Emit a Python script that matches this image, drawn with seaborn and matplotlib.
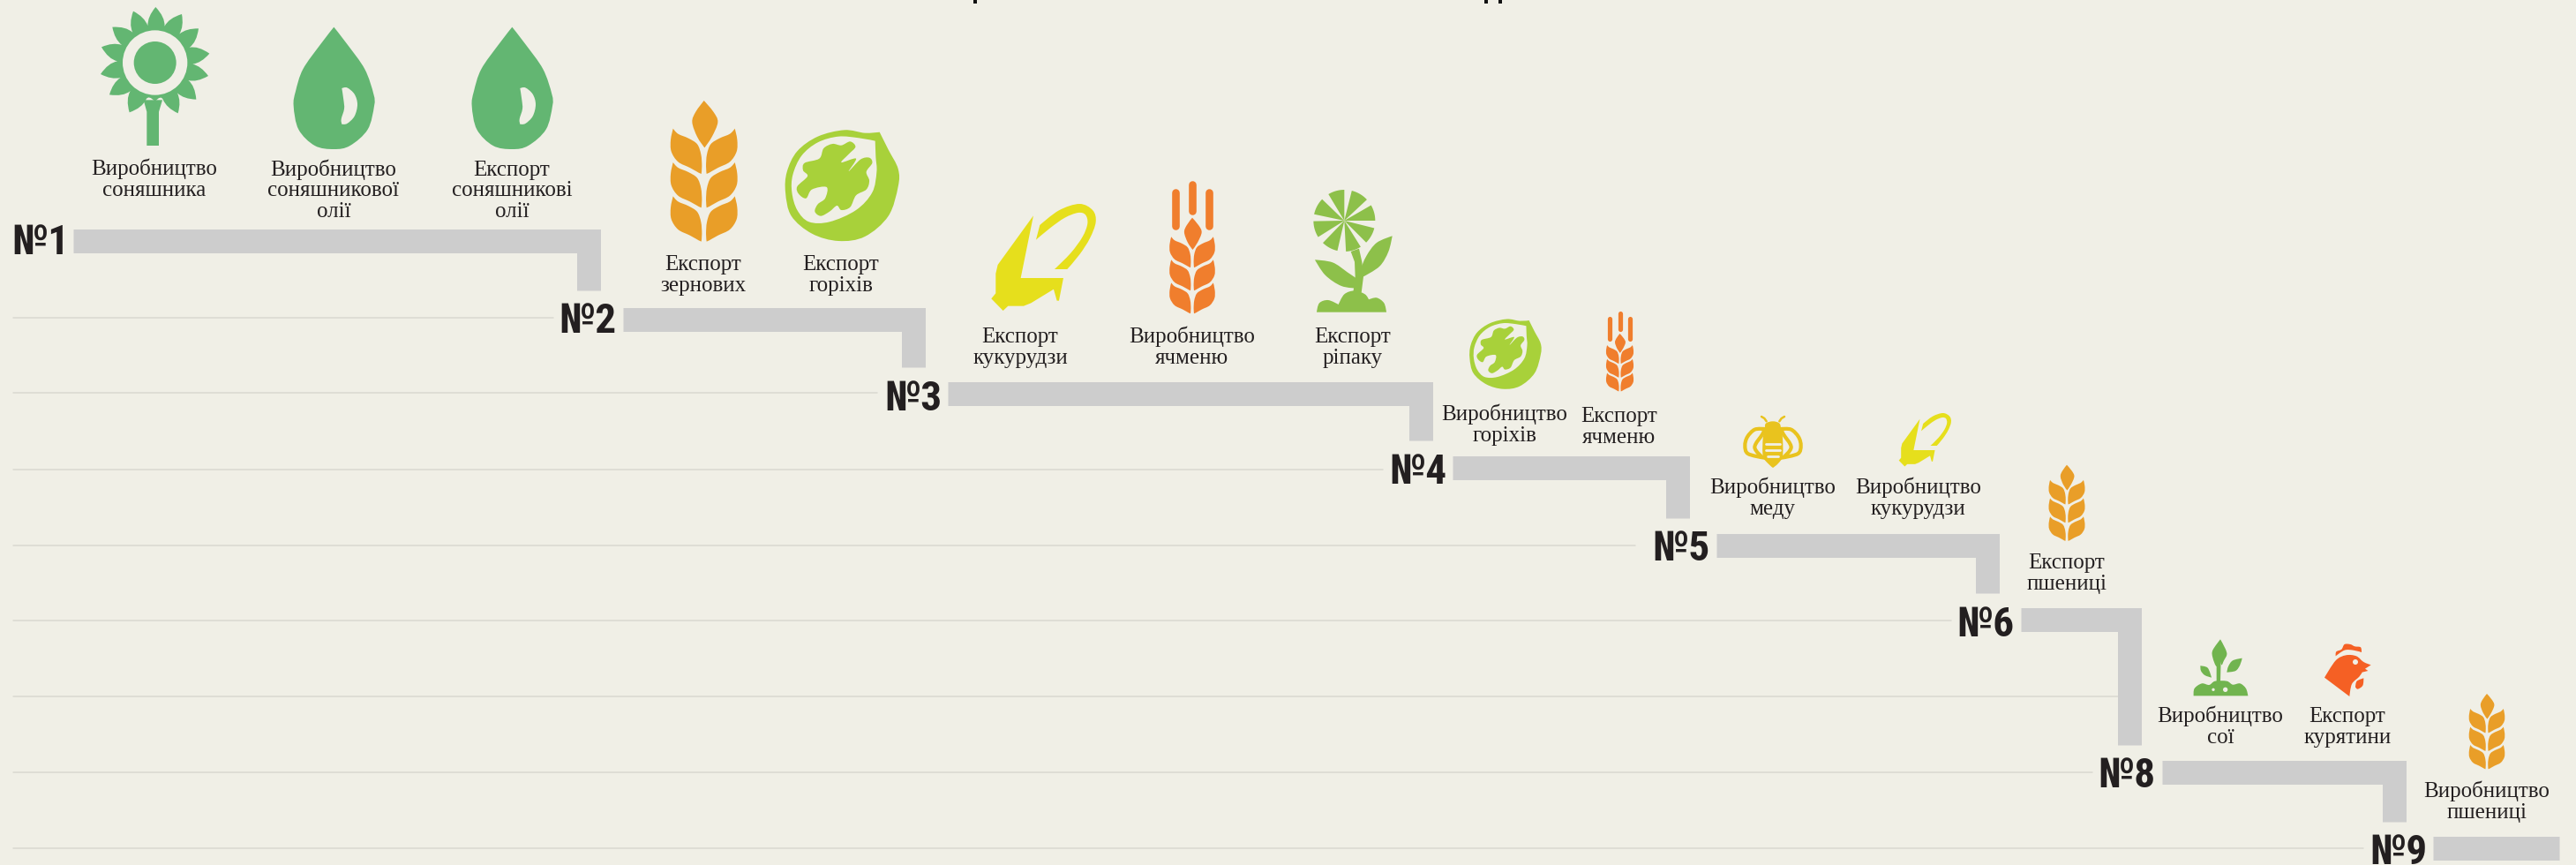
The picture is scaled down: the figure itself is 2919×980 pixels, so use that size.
import math
import numpy as np
import pandas as pd
import seaborn as sns
import matplotlib
matplotlib.use("Agg")
import matplotlib.pyplot as plt
from matplotlib.path import Path
from matplotlib.patches import PathPatch, Circle, Rectangle
from matplotlib import font_manager as fm

# ---------- data ----------
rank_labels = ["№1", "№2", "№3", "№4", "№5", "№6", "№8", "№9"]
rank_text_x = [13, 633, 1002, 1574, 1872, 2217, 2377, 2685]
rank_baseline = [288, 377, 465, 548, 635, 721, 892, 979]
bar_start = [83, 706, 1074, 1646, 1945, 2290, 2450, 2757]
bar_end = [680, 1048, 1623, 1914.5, 2265, 2426.5, 2726, 2899.5]
bar_y = [273.5, 362.5, 446, 530, 617.5, 701.5, 874.5, 961]
drop_end = [329, 416, 499, 587, 672, 844, 931, None]

grid_y = [360, 445, 532, 618, 703, 789, 875, 961]
grid_end = [627, 994, 1567, 1853, 2210.5, 2400, 2370.5, 2678]
grid_start = 15

item_labels = ["Виробництво\nсоняшника", "Виробництво\nсоняшникової\nолії", "Експорт\nсоняшникові\nолії",
               "Експорт\nзернових", "Експорт\nгоріхів", "Експорт\nкукурудзи", "Виробництво\nячменю",
               "Експорт\nріпаку", "Виробництво\nгоріхів", "Експорт\nячменю", "Виробництво\nмеду",
               "Виробництво\nкукурудзи", "Експорт\nпшениці", "Виробництво\nсої", "Експорт\nкурятини",
               "Виробництво\nпшениці"]
item_x = [175, 378, 580, 797, 953, 1156, 1351, 1532.5, 1705, 1835, 2008.5, 2173.5, 2342, 2516, 2660, 2818]
item_last_baseline = [222, 246, 246, 330, 330, 411.5, 411.5, 411.5, 500, 502, 583, 583, 668, 842, 842, 927]

BG = "#F0EFE6"
BAR = "#CDCDCD"
GRID = "#D9D8D0"
INK = "#231F20"
GREEN = "#63B672"
WHEAT = "#E99E28"
NUT = "#A8D13A"
CORN = "#E6DF1C"
BARLEY = "#F07E2D"
RAPE = "#8DC04A"
BEE = "#E9C31E"
SOY = "#71B44F"
HEN = "#F56024"

# icon outlines, in 3x crop coordinates
kernel_top = [(173, 27), (205, 65), (220, 100), (200, 150), (175, 187), (150, 150), (133, 100), (145, 65)]
kernel_side = [(68, 122), (85, 140), (120, 155), (150, 175), (163, 210), (166, 250), (164, 276), (155, 272), (125, 255),
               (85, 235), (62, 200), (60, 160)]
drop_outline = [(835, 92), (880, 150), (940, 235), (970, 320), (972, 360), (950, 440), (890, 495), (835, 507),
                (770, 495), (715, 440), (698, 360), (705, 310), (730, 235), (790, 150)]
drop_shine = [(862, 300), (880, 298), (905, 320), (915, 355), (905, 395), (880, 420), (862, 422), (860, 405),
              (870, 370), (868, 340)]
sun_tips = [(229, 24), (318, 48), (375, 97), (412, 182), (408, 258), (367, 338), (305, 385), (227, 345), (140, 382),
            (72, 322), (42, 252), (45, 160), (82, 92), (153, 38)]
nut_outer = [(770, 135), (800, 195), (833, 260), (833, 320), (800, 420), (720, 490), (630, 505), (540, 480),
             (470, 420), (450, 340), (455, 270), (490, 200), (560, 150), (650, 128), (720, 138)]
nut_hole = [(755, 165), (757, 220), (760, 270), (745, 340), (690, 400), (600, 440), (530, 440), (490, 400),
            (472, 340), (475, 280), (505, 215), (560, 170), (630, 150), (700, 155)]
nut_kernel = [(670, 167), (688, 185), (665, 210), (640, 238), (690, 225), (665, 268), (705, 228), (735, 222),
              (745, 240), (725, 270), (735, 300), (725, 330), (690, 350), (670, 390), (640, 400), (625, 385),
              (600, 405), (570, 420), (550, 405), (560, 380), (585, 360), (590, 322), (540, 330), (520, 360),
              (495, 345), (490, 320), (525, 285), (510, 265), (515, 240), (565, 225), (580, 190), (610, 175),
              (640, 180)]
corn_body = [(183, 133), (140, 345), (285, 345), (270, 422), (263, 422), (252, 383), (175, 430), (150, 440), (97, 440),
             (80, 456), (40, 415), (55, 397), (55, 330), (62, 300)]
corn_leaf = [(205, 165), (270, 115), (340, 93), (385, 115), (395, 155), (375, 210), (340, 265), (298, 315), (255, 315),
             (310, 260), (350, 205), (367, 160), (360, 130), (335, 123), (290, 140), (240, 175), (192, 215)]
rape_petals = [(90, 121), (43, 76), (0, 30), (-45, -14), (-87, -58), (-134, -103), (-179, -148), (136, 168)]
rape_stem = [(1262, 255), (1290, 245), (1300, 290), (1305, 340), (1298, 395), (1270, 395), (1277, 340), (1275, 290)]
rape_right = [(1403, 202), (1350, 225), (1315, 270), (1295, 320), (1305, 340), (1360, 305), (1390, 255)]
rape_left = [(1140, 283), (1200, 292), (1250, 325), (1285, 352), (1285, 380), (1230, 372), (1175, 335)]
rape_ground = [(1146, 461), (1155, 430), (1185, 420), (1220, 435), (1240, 400), (1275, 388), (1310, 400), (1323, 418),
               (1350, 412), (1375, 430), (1383, 461)]
bee_body = [(122, 60), (147, 52), (170, 60), (175, 85), (180, 110), (180, 170), (165, 195), (147, 210), (130, 195),
            (113, 170), (113, 110), (120, 85)]
bee_wing = [(118, 78), (85, 80), (60, 105), (52, 135), (62, 162), (112, 175), (85, 140), (112, 95)]
soy_ground = [(47, 220), (50, 195), (75, 178), (100, 183), (120, 170), (160, 170), (180, 182), (205, 178), (225, 195),
              (232, 220)]
soy_stem = [(125, 90), (140, 90), (138, 172), (125, 172)]
soy_top = [(138, 28), (155, 60), (160, 80), (150, 100), (142, 115), (135, 90), (125, 120), (112, 90), (112, 65)]
soy_right = [(212, 92), (180, 100), (165, 120), (160, 140), (190, 135), (205, 115)]
soy_left = [(70, 118), (95, 125), (108, 158), (85, 150), (72, 135)]
hen_body = [(492, 158), (530, 100), (565, 82), (600, 85), (625, 105), (650, 115), (630, 128), (640, 135), (620, 140),
            (610, 155), (585, 180), (577, 222)]
hen_comb = [(530, 85), (532, 70), (550, 62), (560, 45), (580, 45), (595, 52), (615, 55), (618, 72), (590, 65), (560, 65)]
hen_wattle = [(625, 160), (622, 185), (605, 197), (597, 190), (602, 170)]

# ---------- figure ----------
sns.set_theme(style="white")
preferred = ["Liberation Sans Narrow", "Roboto Condensed", "Open Sans Condensed", "Liberation Sans"]
installed = {f.name for f in fm.fontManager.ttflist}
num_font = next((f for f in preferred if f in installed), "DejaVu Sans")

fig = plt.figure(figsize=(29.19, 9.8), dpi=100, facecolor=BG)
ax = fig.add_axes([0, 0, 1, 1], facecolor=BG)


def smooth(pts, corners=()):
    pts = [np.array(p, float) for p in pts]
    n = len(pts)
    verts, codes = [pts[0]], [Path.MOVETO]
    for i in range(n):
        p0, p1, p2, p3 = pts[i - 1], pts[i], pts[(i + 1) % n], pts[(i + 2) % n]
        c1 = p1 if i in corners else p1 + (p2 - p0) / 6
        c2 = p2 if (i + 1) % n in corners else p2 - (p3 - p1) / 6
        verts += [c1, c2, p2]
        codes += [Path.CURVE4] * 3
    verts.append(pts[0])
    codes.append(Path.CLOSEPOLY)
    return Path(np.array(verts), codes)


def icon(ox, oy, zx, zy, s=1.0):
    return lambda p: (ox + (p[0] - zx) / 3 * s, oy + (p[1] - zy) / 3 * s)


def blob(t, pts, color, corners=(), z=3, **kw):
    ax.add_patch(PathPatch(smooth([t(p) for p in pts], corners), fc=kw.pop("fc", color), ec=kw.pop("ec", "none"),
                           lw=kw.pop("lw", 0), zorder=z, **kw))


def poly(t, pts, color, z=3):
    blob(t, pts, color, corners=range(len(pts)), z=z)


def disc(t, p, r, color, s=1.0, z=4):
    ax.add_patch(Circle(t(p), r / 3 * s, fc=color, ec="none", zorder=z))


def wheat(axis_x, top_y, s, color, awns=False):
    t = icon(axis_x, top_y, 173, 27, s)
    blob(t, kernel_top, color, corners=(0, 4))
    for row in range(3):
        left = [(x, y + 115 * row) for x, y in kernel_side]
        right = [(346 - x, y) for x, y in left]
        blob(t, left, color, corners=(0, 6, 7))
        blob(t, right, color, corners=(0, 6, 7))
    if awns:
        for zx, z0, z1 in [(-84, -127, 41), (0, -167, -33), (84, -127, 41)]:
            hw = 19
            ax.add_patch(PathPatch(Path([t((173 + zx, 27 + z0)), t((173 + zx, 27 + z1))]), ec=color,
                                   lw=2 * hw / 3 * s * 0.72, capstyle="round", fill=False, zorder=3))


def drop(dx):
    t = icon(100 + dx, 0, 0, 0)
    blob(t, drop_outline, GREEN, corners=(0,))
    blob(t, drop_shine, BG, corners=(0, 6), z=4)


def sunflower():
    t = icon(100, 0, 0, 0)
    cx, cy = 227, 213
    rv = 128
    polar = []
    for p in sun_tips:
        polar.append((math.atan2(p[1] - cy, p[0] - cx), math.hypot(p[0] - cx, p[1] - cy)))
    verts, codes = [], []
    n = len(polar)
    for i in range(n):
        a, r = polar[i]
        a_next = polar[(i + 1) % n][0]
        d = (a_next - a + math.pi) % (2 * math.pi) - math.pi
        a_prev = polar[i - 1][0]
        dp = (a_prev - a + math.pi) % (2 * math.pi) - math.pi
        vp = a + dp / 2
        vn = a + d / 2
        pt = lambda an, ra: t((cx + ra * math.cos(an), cy + ra * math.sin(an)))
        if i == 0:
            verts.append(pt(vp, rv))
            codes.append(Path.MOVETO)
        verts += [pt(a + dp * 0.42, r * 0.84), pt(a, r), pt(a + d * 0.42, r * 0.84), pt(vn, rv)]
        codes += [Path.CURVE3] * 4
    verts.append(verts[0])
    codes.append(Path.CLOSEPOLY)
    ax.add_patch(PathPatch(Path(verts, codes), fc=GREEN, ec="none", zorder=3))
    poly(t, [(199, 495), (199, 380), (188, 340), (252, 340), (240, 380), (240, 495)], GREEN, z=3)
    disc(t, (cx, cy), 110, BG)
    disc(t, (cx, cy), 72, GREEN, z=5)


def nut(cx, cy, s):
    t = icon(cx, cy, 641, 316, s)
    blob(t, nut_outer, NUT, corners=(0,))
    blob(t, nut_hole, BG, corners=(0,), z=4)
    blob(t, nut_kernel, NUT, z=5)


def corn(ox, oy, s):
    t = icon(ox, oy, 40, 93, s)
    poly(t, corn_body, CORN)
    blob(t, corn_leaf, CORN, corners=(0, 7, 8, 16))


def rape():
    t = icon(1110, 200, 0, 0)
    cx, cy, r = 1240, 150, 105
    for a0, a1 in rape_petals:
        angs = np.radians(np.linspace(a0, a1, 9))
        pts = [(cx, cy)] + [(cx + r * math.cos(a), cy - r * math.sin(a)) for a in angs]
        poly(t, pts, RAPE)
    poly(t, rape_stem, RAPE)
    blob(t, rape_right, RAPE, corners=(0, 4))
    blob(t, rape_left, RAPE, corners=(0, 4))
    blob(t, rape_ground, RAPE, corners=(0, 3, 7, 10))


def bee():
    t = icon(1960, 460, 0, 0)
    blob(t, bee_body, BEE, corners=(7,))
    for sx in (0, 1):
        f = (lambda p: (294 - p[0], p[1])) if sx else (lambda p: p)
        tw = (lambda g: (lambda p: t(g(p))))(f)
        blob(tw, bee_wing, "none", fc="none", ec=BEE, lw=3.0, corners=(0, 5))
        ax.plot(*zip(*[tw(p) for p in [(125, 52), (118, 42), (108, 36)]]), color=BEE, lw=1.8, zorder=3)
    for y0, x0, x1 in [(128, 122, 172), (150, 122, 172), (172, 128, 166)]:
        ax.plot(*zip(t((x0, y0)), t((x1, y0))), color=BG, lw=2.0, zorder=4)


def soy():
    t = icon(2470, 715, 0, 0)
    blob(t, soy_ground, SOY, corners=(0, 9))
    poly(t, soy_stem, SOY)
    blob(t, soy_top, SOY, corners=(0, 5))
    blob(t, soy_right, SOY, corners=(0, 3))
    blob(t, soy_left, SOY, corners=(0, 2))
    disc(t, (114, 199), 5, BG)
    disc(t, (155, 199), 8, BG)


def hen():
    t = icon(2470, 715, 0, 0)
    blob(t, hen_body, HEN, corners=(0, 5, 6, 7, 8, 11))
    blob(t, hen_comb, HEN, corners=(0, 7))
    blob(t, hen_wattle, HEN, corners=(0, 3))
    disc(t, (597, 105), 9, BG)


# gridlines
grid_df = pd.DataFrame({
    "x": [v for e in grid_end for v in (grid_start, e)],
    "y": [v for y in grid_y for v in (y, y)],
    "line": [i for i in range(len(grid_y)) for _ in (0, 1)],
})
sns.lineplot(data=grid_df, x="x", y="y", units="line", estimator=None, sort=False, color=GRID, lw=1.1,
             legend=False, ax=ax, zorder=1)

# staircase
bar_w = 27
rows = []
for i, (s, e, y, d) in enumerate(zip(bar_start, bar_end, bar_y, drop_end)):
    rows.append((i, s, y))
    if d is None:
        rows.append((i, e, y))
    else:
        rows.append((i, e - bar_w / 2, y))
        rows.append((i, e - bar_w / 2, d))
step_df = pd.DataFrame(rows, columns=["step", "x", "y"])
sns.lineplot(data=step_df, x="x", y="y", units="step", estimator=None, sort=False, color=BAR, lw=bar_w * 0.72,
             solid_joinstyle="miter", solid_capstyle="butt", legend=False, ax=ax, zorder=2)

# rank numbers
for lab, x, y in zip(rank_labels, rank_text_x, rank_baseline):
    ax.text(x, y, lab, family=num_font, weight="bold", fontsize=34, color=INK, ha="left", va="baseline", zorder=6)

# item labels
for lab, x, y in zip(item_labels, item_x, item_last_baseline):
    ax.text(x, y, lab, family="Liberation Serif", fontsize=18, color=INK, ha="center", va="baseline",
            linespacing=1.1, multialignment="center", zorder=6)

# icons
sunflower()
drop(0)
drop(202)
wheat(797.7, 114, 1.0, WHEAT)
nut(953.7, 210, 1.0)
corn(1123.3, 231, 1.0)
wheat(1351, 246.7, 0.68, BARLEY, awns=True)
rape()
nut(1705.5, 401, 0.63)
wheat(1835.5, 378, 0.41, BARLEY, awns=True)
bee()
corn(2151.7, 468, 0.5)
wheat(2342, 526.7, 0.54, WHEAT)
soy()
hen()
wheat(2818, 786, 0.535, WHEAT)

# cut-off strokes of the title at the top edge
for x in (1105, 1684, 1700):
    ax.add_patch(Rectangle((x - 2, 0), 4, 4, fc="#111111", ec="none", zorder=6))

ax.set_xlim(0, 2919)
ax.set_ylim(980, 0)
ax.set_axis_off()
fig.savefig("out.png", dpi=100, facecolor=BG)
